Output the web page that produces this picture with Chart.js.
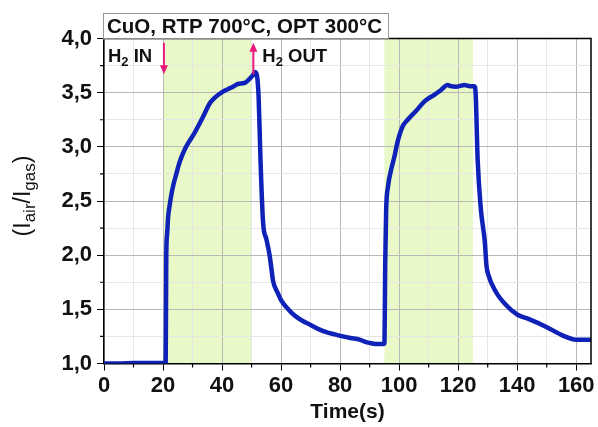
<!DOCTYPE html>
<html>
<head>
<meta charset="utf-8">
<script src="https://cdn.jsdelivr.net/npm/chart.js@4/dist/chart.umd.min.js"></script>
<style>
html,body{margin:0;padding:0;background:#fff;}
#wrap{width:598px;height:427px;position:relative;}
</style>
</head>
<body>
<div id="wrap"><canvas id="c" width="598" height="427"></canvas></div>
<script>
// ---- data ----
const timeS = [0,5,10,15,20.9,21.1,21.4,21.75,22.3,22.9,23.7,24.6,25.4,26.3,27.6,29.1,30.5,31.9,33.6,35.8,37.4,39.2,41,42.6,44,45.4,47.7,49.4,50.4,51.1,51.8,52.4,53.0,53.9,55,56.1,56.8,57.3,58.9,60.1,61.8,63.5,65.2,67.5,69.7,72.5,75.3,78,80.9,83.5,86.6,88.5,90,92,94.8,
  95.0,95.3,95.6,96.2,97.3,98.4,99.5,101.2,102.9,105.7,108.6,111.9,114.2,116.4,117.5,119.3,121,122.1,124,125.5,125.9,126.6,127.7,129.0,129.6,130.2,132.8,136.2,140.1,144,149.7,155.3,159.9,165];
const ratio = [1.0,1.0,1.005,1.005,1.005,2.0,2.20,2.36,2.47,2.57,2.67,2.76,2.84,2.91,2.99,3.06,3.12,3.19,3.28,3.40,3.45,3.49,3.52,3.54,3.56,3.58,3.59,3.63,3.66,3.69,3.66,3.45,2.9,2.30,2.15,2.00,1.86,1.76,1.65,1.58,1.52,1.47,1.43,1.39,1.36,1.32,1.29,1.27,1.25,1.235,1.22,1.20,1.19,1.18,1.18,
  1.19,1.96,2.42,2.63,2.79,2.91,3.05,3.19,3.25,3.33,3.42,3.48,3.525,3.57,3.56,3.555,3.565,3.57,3.56,3.56,3.50,2.88,2.42,2.13,1.90,1.82,1.66,1.54,1.45,1.41,1.34,1.26,1.22,1.22];
const gasOnWindows = [[20,50],[95,125]];
const xTickLabels = [0,20,40,60,80,100,120,140,160];
const yTickLabels = ["1,0","1,5","2,0","2,5","3,0","3,5","4,0"];
const titleText = "CuO, RTP 700°C, OPT 300°C";
const arrowIn = {t:20.3, from:3.96, to:3.67, label:"IN"};
const arrowOut = {t:50.6, from:3.67, to:3.96, label:"OUT"};

const points = timeS.map((t,i)=>({x:t,y:ratio[i]}));
const FONT = "'Liberation Sans', Arial, sans-serif";
const PINK = '#e8197a';

function drawSubText(ctx, parts, x, y, big, small, bold) {
  let cx = x;
  parts.forEach(([txt, sub]) => {
    ctx.font = (bold?'bold ':'') + (sub?small:big) + 'px ' + FONT;
    ctx.fillText(txt, cx, sub ? y + big*0.22 : y);
    cx += ctx.measureText(txt).width;
  });
  return cx - x;
}
function measureSub(ctx, parts, big, small, bold){
  let w=0;
  parts.forEach(([txt, sub])=>{ctx.font=(bold?'bold ':'')+(sub?small:big)+'px '+FONT; w+=ctx.measureText(txt).width;});
  return w;
}

const decor = {
  id:'decor',
  beforeDraw(chart){
    const {ctx, chartArea:a, scales:{x}} = chart;
    ctx.save();
    ctx.fillStyle='#fff'; ctx.fillRect(0,0,chart.width,chart.height);
    ctx.fillStyle='#e8f8c6';
    gasOnWindows.forEach(([s,e])=>{
      const x0=x.getPixelForValue(s), x1=x.getPixelForValue(e);
      ctx.fillRect(x0,a.top,x1-x0,a.bottom-a.top);
    });
    ctx.restore();
  },
  afterDraw(chart){
    const {ctx, chartArea:a, scales:{x,y}} = chart;
    ctx.save();
    ctx.strokeStyle='#000'; ctx.lineWidth=1.5;
    ctx.beginPath();
    ctx.moveTo(a.left,a.top); ctx.lineTo(a.right,a.top); ctx.lineTo(a.right,a.bottom);
    ctx.stroke();
    ctx.lineWidth=1.2;
    ctx.beginPath();
    x.ticks.forEach(tk=>{ if(tk.value%20!==0){const px=x.getPixelForValue(tk.value); ctx.moveTo(px,a.bottom); ctx.lineTo(px,a.bottom+4);} });
    y.ticks.forEach(tk=>{ if(Math.abs(tk.value*2-Math.round(tk.value*2))>1e-6){const py=y.getPixelForValue(tk.value); ctx.moveTo(a.left,py); ctx.lineTo(a.left-4,py);} });
    ctx.stroke();
    // title box
    ctx.font='bold 20.5px '+FONT;
    const tw=ctx.measureText(titleText).width;
    const bx=a.left-1, by=13, bw=tw+10, bh=a.top-by;
    ctx.fillStyle='#fff'; ctx.fillRect(bx,by,bw,bh);
    ctx.strokeStyle='#999'; ctx.lineWidth=1;
    ctx.strokeRect(bx+0.5,by+0.5,bw,bh);
    ctx.fillStyle='#111'; ctx.textBaseline='alphabetic'; ctx.textAlign='left';
    ctx.fillText(titleText,bx+4,by+20);
    // arrows
    [arrowIn, arrowOut].forEach(ar=>{
      const px=x.getPixelForValue(ar.t), y0=y.getPixelForValue(ar.from), y1=y.getPixelForValue(ar.to);
      const dir = y1>y0?1:-1;
      ctx.strokeStyle=PINK; ctx.fillStyle=PINK; ctx.lineWidth=2;
      ctx.beginPath(); ctx.moveTo(px,y0); ctx.lineTo(px,y1-dir*7); ctx.stroke();
      ctx.beginPath(); ctx.moveTo(px,y1); ctx.lineTo(px-4,y1-dir*9); ctx.lineTo(px+4,y1-dir*9); ctx.closePath(); ctx.fill();
    });
    ctx.fillStyle='#111';
    drawSubText(ctx,[["H",false],["2",true],[" "+arrowIn.label,false]], a.left+4, 62, 18.5, 13, true);
    drawSubText(ctx,[["H",false],["2",true],[" "+arrowOut.label,false]], x.getPixelForValue(arrowOut.t)+9, 62, 18.5, 13, true);
    // x title
    ctx.font='bold 21px '+FONT; ctx.textAlign='center';
    ctx.fillText('Time(s)', (a.left+a.right)/2, 418);
    // y title
    const parts=[["(I",false],["air",true],["/I",false],["gas",true],[")",false]];
    ctx.textAlign='left';
    const w=measureSub(ctx,parts,23,17,false);
    ctx.translate(30,196);
    ctx.rotate(-Math.PI/2);
    drawSubText(ctx,parts,-w/2,0,23,17,false);
    ctx.restore();
  }
};

new Chart(document.getElementById('c'),{
  type:'line',
  data:{datasets:[{data:points,borderColor:'#0f22b8',borderWidth:4.5,pointRadius:0,tension:0.3,cubicInterpolationMode:'monotone',fill:false,borderJoinStyle:'round',borderCapStyle:'round'}]},
  options:{
    responsive:false, animation:false, events:[],
    layout:{padding:{top:38.5,right:7,left:0,bottom:0}},
    plugins:{legend:{display:false},tooltip:{enabled:false}},
    scales:{
      x:{type:'linear',min:0,max:165,
        afterBuildTicks(s){ s.ticks = []; for(let v=0; v<=160; v+=10) s.ticks.push({value:v}); },
        afterFit(s){ s.height = 427-363.5; },
        ticks:{autoSkip:false,maxRotation:0,padding:2,color:'#111',font:{family:FONT,size:22,weight:'bold'},
          callback:(v)=> xTickLabels.includes(v) ? String(v) : ''},
        grid:{color:c=> c.tick && c.tick.value%20===0 ? '#b8b8b8':'#e6e6e6', lineWidth:1, tickLength:7,
          tickColor:c=> c.tick && c.tick.value%20===0 ? '#000':'rgba(0,0,0,0)'},
        border:{color:'#000',width:1.5}
      },
      y:{type:'linear',min:1,max:4,
        afterBuildTicks(s){ s.ticks=[]; for(let i=0;i<=12;i++) s.ticks.push({value:1+i*0.25}); },
        afterFit(s){ s.width = 104; },
        ticks:{autoSkip:false,padding:5,color:'#111',font:{family:FONT,size:22,weight:'bold'},
          callback:(v)=>{ const i=Math.round((v-1)*2); return Math.abs((v-1)*2-i)<1e-6 ? yTickLabels[i] : ''; }},
        grid:{color:c=> c.tick && Math.abs(c.tick.value*2-Math.round(c.tick.value*2))<1e-6 ? '#b8b8b8':'#e6e6e6', lineWidth:1, tickLength:7,
          tickColor:c=> c.tick && Math.abs(c.tick.value*2-Math.round(c.tick.value*2))<1e-6 ? '#000':'rgba(0,0,0,0)'},
        border:{color:'#000',width:1.5}
      }
    }
  },
  plugins:[decor]
});
</script>
</body>
</html>
